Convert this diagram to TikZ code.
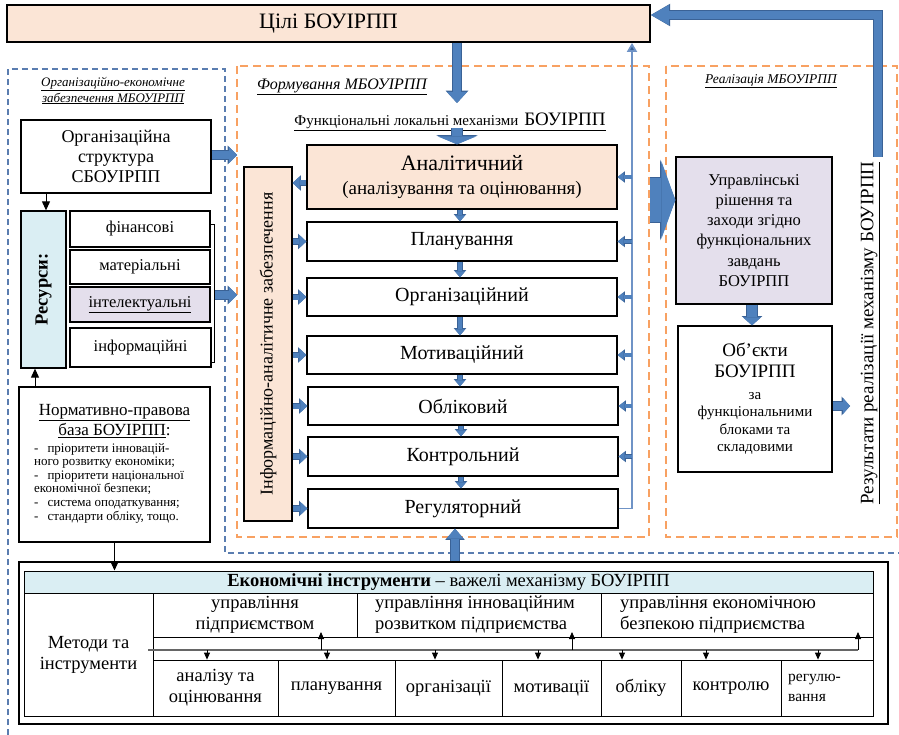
\documentclass[tikz,border=0pt]{standalone}
\usepackage{fontspec}
\setmainfont{Liberation Serif}
\usetikzlibrary{arrows.meta,calc}
\definecolor{peach}{HTML}{FBE5D6}
\definecolor{lblue}{HTML}{DAEEF3}
\definecolor{lav}{HTML}{E4DFEC}
\definecolor{ablue}{HTML}{4F81BD}
\definecolor{adark}{HTML}{3A6296}
\definecolor{odash}{HTML}{F8A162}
\definecolor{bdash}{HTML}{5A7DB0}
\definecolor{railc}{HTML}{6F93C6}
\newcommand\fs[2]{\fontsize{#1}{#2}\selectfont}
\begin{document}
\begin{tikzpicture}[x=1pt,y=-1pt,
  box/.style={draw, line width=1.3pt, inner sep=0pt, align=center},
  cell/.style={draw, line width=0.8pt, inner sep=0pt, align=center, font=\fs{18.5}{21}},
  blk/.style args={#1/#2/#3}{draw=ablue, line width=#1,
    -{Triangle[width=#2,length=#3,line width=0pt]},
    preaction={draw=adark, line width=#1+1.4pt, -{Triangle[width=#2+2.6pt,length=#3+1.3pt,line width=0pt]}}},
  thinarr/.style={draw=black, line width=1pt, -{Triangle[width=8pt,length=9pt]}},
  tarr/.style={draw=black, line width=0.8pt, -{Triangle[width=6pt,length=7pt]}},
  odframe/.style={draw=odash, line width=2pt, dash pattern=on 8pt off 5pt},
  bdframe/.style={draw=bdash, line width=1.1pt, dash pattern=on 6pt off 4pt},
]
\useasboundingbox (0,0) rectangle (899,735);

% goals
\node[box, line width=1.8pt, fill=peach, minimum width=643, minimum height=37, font=\fs{22}{26}] (goal) at (328.5,23.5) {Цілі БОУІРПП};

% frames
\draw[bdframe] (8,735) -- (8,69) -- (225,69) -- (225,553) -- (899,553);
\draw[odframe] (237,66) rectangle (649,537);
\draw[odframe] (666,66) rectangle (897,537);
\coordinate (fL) at (237,0);

% frame titles
\node[font=\itshape\fs{13}{16}, align=center, inner sep=0] (oetitle) at (113,90.5) {\underline{Організаційно-економічне}\\\underline{забезпечення МБОУІРПП}};
\node[font=\itshape\fs{16}{19}, inner sep=0] (ftitle) at (342,87) {\underline{Формування МБОУІРПП}};
\node[font=\itshape\fs{13.5}{16}, inner sep=0] (rtitle) at (771,81) {\underline{Реалізація МБОУІРПП}};
\node[inner sep=0] (flabel) at (450,122) {\underline{\fs{15}{18}Функціональні локальні механізми\hspace{6pt}\fs{19}{22}БОУІРПП}};

% functional mechanisms
\node[box, fill=peach, minimum width=310, minimum height=64, font=\fs{19}{24}] (anal) at (462,177)
  {{\fs{22}{24}Аналітичний}\\(аналізування та оцінювання)};
\node[box, minimum width=310, minimum height=39, font=\fs{20}{22}] (plan) at (462,241.5) {Планування};
\node[box, minimum width=310, minimum height=38, font=\fs{20}{22}] (org) at (462,297) {Організаційний};
\node[box, minimum width=310, minimum height=38, font=\fs{20}{22}] (mot) at (462,355) {Мотиваційний};
\node[box, minimum width=310, minimum height=38, font=\fs{20}{22}] (obl) at (463,406) {Обліковий};
\node[box, minimum width=310, minimum height=39, font=\fs{20}{22}] (kontr) at (463,456.5) {Контрольний};
\node[box, minimum width=310, minimum height=39, font=\fs{20}{22}] (reg) at (463,508.5) {Регуляторний};

\node[box, fill=peach, minimum width=48, minimum height=354] (info) at (268,344) {};
\node[rotate=90, font=\fs{18}{20}, inner sep=0] (infol) at (info.center) {Інформаційно-аналітичне забезпечення};

% arrows inside the chain
\foreach \a/\b in {anal/plan,plan/org,org/mot,mot/obl,obl/kontr,kontr/reg}
  \draw[blk=4pt/10pt/6pt] ([xshift=-2pt]\a.south) -- ([xshift=-2pt]\a.south |- \b.north);
\coordinate (aw) at ($(anal.west)+(0,6)$);
\draw[blk=5pt/13pt/7pt] (aw) -- (aw -| info.east);
\foreach \b in {plan,org,mot,obl,kontr,reg}
  \draw[blk=5pt/13pt/7pt] (info.east |- \b.west) -- (\b.west);

% feedback rail to goals
\coordinate (rail) at (632,0);
\draw[railc, line width=1.8pt, -{Triangle[width=10pt,length=9pt,fill=adark]}] (reg.east) -| (rail |- goal.south);
\foreach \b in {anal,plan,org,mot,obl,kontr}
  \draw[blk=3.5pt/9pt/6pt] (\b.east -| rail) -- (\b.east);

% goals -> mechanisms
\coordinate (dn) at (457,0);
\draw[blk=8pt/20pt/11pt] (dn |- goal.south) -- (457,103);
\draw[blk=10pt/39pt/8pt] (457,128) -- (dn |- anal.north);

% realization
\node[box, fill=lav, minimum width=156, minimum height=147, font=\fs{16.5}{20.2}] (mgmt) at (754,230.5)
  {Управлінські\\рішення та\\заходи згідно\\функціональних\\завдань\\БОУІРПП};
\node[box, minimum width=154, minimum height=146, font=\fs{15}{17.5}] (obj) at (755,399)
  {{\fs{19}{21}Об’єкти}\\[3.5pt]{\fs{19}{21}БОУІРПП}\\[4pt]за\\функціональними\\блоками та\\складовими};
\draw[blk=44pt/78pt/14pt] (650,200) -- (mgmt.west |- 0,200);
\coordinate (mx) at (752,0);
\draw[blk=10pt/18pt/8pt] (mx |- mgmt.south) -- (mx |- obj.north);
\draw[blk=8pt/16pt/7pt] (obj.east |- 0,406) -- (850,406);
\node[rotate=90, font=\fs{19}{22}, inner sep=0] (resl) at (870,333) {\underline{Результати реалізації механізму БОУІРПП}};
\draw[blk=8pt/20pt/18pt] (878,157) |- (goal.east |- 0,15);

% organisational and economic support
\node[box, line width=1.5pt, minimum width=190, minimum height=73, font=\fs{18}{20}] (ostr) at (116,156.5)
  {Організаційна\\структура\\СБОУІРПП};
\draw[blk=8pt/16pt/8pt] (ostr.east |- 0,155) -- (fL |- 0,155);

\node[box, fill=lblue, minimum width=45, minimum height=157] (res) at (43.5,289.5) {};
\node[rotate=90, font=\bfseries\fs{18.5}{20}, inner sep=0] (resl2) at (res.center) {Ресурси:};
\node[box, minimum width=140, minimum height=36, font=\fs{16.5}{19}] (fin) at (140,229) {фінансові};
\node[box, minimum width=140, minimum height=34, font=\fs{16.5}{19}] (mat) at (140,267) {матеріальні};
\node[box, fill=lav, minimum width=140, minimum height=35, font=\fs{16.5}{19}] (intel) at (140,304.5) {\underline{інтелектуальні}};
\node[box, minimum width=141, minimum height=39, font=\fs{16.5}{19}] (inf) at (140.5,347.5) {інформаційні};
\draw[line width=1pt] (fin.east |- 0,225) -- ++(4,0) |- (inf.east |- 0,362);
\draw[blk=8pt/16pt/8pt] (215,295) -- (fL |- 0,295);
\coordinate (rx) at (46,0);
\draw[thinarr] (rx |- ostr.south) -- (rx |- res.north);

\node[box, line width=1.5pt, minimum width=191, minimum height=155] (norm) at (114.5,464.5) {};
\node[align=center, font=\fs{17}{20}, inner sep=0] (normt) at (114.5,421) {\underline{Нормативно-правова}\\\underline{база БОУІРПП}:};
\node[align=left, anchor=north west, font=\fs{13}{13.6}, inner sep=0] (norml) at (34,443)
  {-\hspace{9pt}пріоритети інновацій-\\ного розвитку економіки;\\-\hspace{9pt}пріоритети національної\\економічної безпеки;\\-\hspace{9pt}система оподаткування;\\-\hspace{9pt}стандарти обліку, тощо.};
\coordinate (nx) at (35,0);
\draw[thinarr] (nx |- norm.north) -- (nx |- res.south);

% economic instruments
\node[draw, line width=2pt, minimum width=869, minimum height=162, inner sep=0] (econ) at (453.5,643) {};
\node[draw, line width=1pt, minimum width=849, minimum height=145, inner sep=0] (econin) at (448.5,643.5) {};
\draw[thinarr] (norm.south) -- (norm.south |- econin.north);
\draw[blk=8pt/17pt/10pt] (455,0 |- econ.north) -- (455,0 |- reg.south);

\node[cell, fill=lblue, minimum width=849, minimum height=22] (hd) at (448.5,582)
  {\textbf{Економічні інструменти} – важелі механізму БОУІРПП};
\node[cell, minimum width=129, minimum height=123] (m) at (88.5,654.5) {Методи та\\інструменти};
\node[cell, minimum width=204, minimum height=44] (c1) at (255,615) {управління\\підприємством};
\node[cell, minimum width=244, minimum height=44] (c2) at (479,615) {};
\node[cell, minimum width=272, minimum height=44] (c3) at (737,615) {};
\node[align=left, font=\fs{18.5}{21}, inner sep=0] (c2t) at ([xshift=-4pt]c2.center) {управління інноваційним\\розвитком підприємства};
\node[align=left, font=\fs{18.5}{21}, inner sep=0, anchor=west] (c3t) at (620,615) {управління економічною\\безпекою підприємства};
\node[cell, minimum width=125, minimum height=56] (b1) at (215.5,688) {аналізу та\\оцінювання};
\node[cell, minimum width=117, minimum height=56] (b2) at (336.5,688) {планування};
\node[cell, minimum width=107, minimum height=56] (b3) at (448.5,688) {організації};
\node[cell, minimum width=99, minimum height=56] (b4) at (551.5,688) {мотивації};
\node[cell, minimum width=80, minimum height=56] (b5) at (641,688) {обліку};
\node[cell, minimum width=100, minimum height=56] (b6) at (731,688) {контролю};
\node[cell, minimum width=92, minimum height=56] (b7) at (827,688) {};
\node[align=left, font=\fs{15.5}{20}, inner sep=0, anchor=west] (b7t) at (788,688) {регулю-\\вання};

% links between the levers and the methods
\draw[black!60, line width=1.2pt] (148,650) -- (858,650);
\foreach \c/\x in {b1/207,b2/327,b3/435,b4/538,b5/622,b6/706,b7/818}
  \draw[tarr] (\x,650) -- (\x,0 |- \c.north);
\foreach \x in {321,572,858}
  \draw[tarr] (\x,650) -- (\x,632);
\end{tikzpicture}
\end{document}
